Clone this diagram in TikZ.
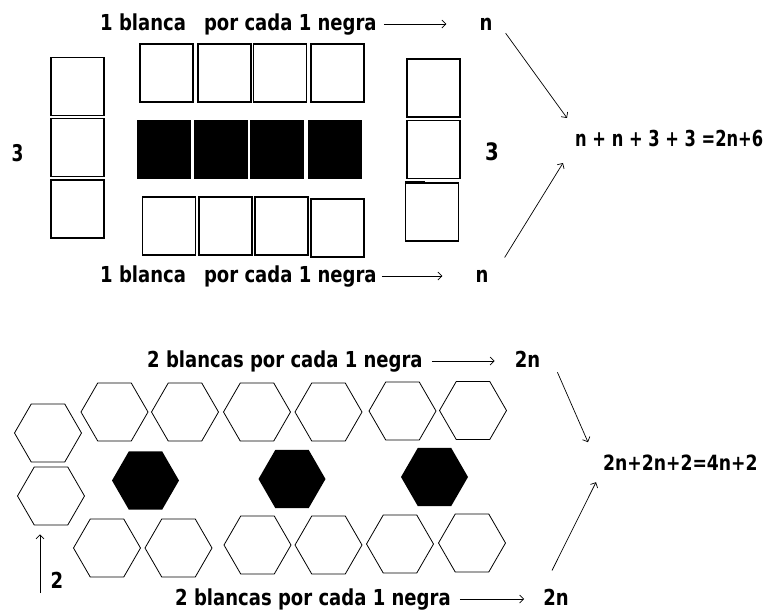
\documentclass[tikz,border=0pt]{standalone}
\usepackage{fontspec}
\usepackage{tikz}
\usetikzlibrary{shapes.geometric, arrows.meta}

\newfontfamily\rotulo{DejaVu Sans}[FakeStretch=0.82]
\newfontfamily\formula{DejaVu Sans}[FakeStretch=0.74]

\tikzset{
    texto/.style={inner sep=0pt, font=\rotulo\bfseries\fontsize{22}{26}\selectfont},
    cuadro/.style={draw, line width=1.3pt, inner sep=0pt, minimum width=53pt, minimum height=58pt},
    cuadronegro/.style={fill=black, inner sep=0pt, minimum width=54pt, minimum height=59pt},
    hexblanco/.style={regular polygon, regular polygon sides=6, draw, line width=0.8pt, inner sep=0pt, minimum size=67pt},
    hexnegro/.style={regular polygon, regular polygon sides=6, fill=black, inner sep=0pt, minimum size=67pt},
    flecha/.style={-{Straight Barb[length=4pt, width=8pt]}, line width=0.7pt}
}

\begin{document}
\begin{tikzpicture}[x=1pt, y=-1pt]
    \useasboundingbox (0,0) rectangle (773,614);

    \node[cuadro] (iz1) at (77.5,86.5) {};
    \node[cuadro] (iz2) at (77.5,147.5) {};
    \node[cuadro] (iz3) at (77.5,209) {};

    \node[cuadro] (ar1) at (166.5,73) {};
    \node[cuadro] (ar2) at (224.5,73) {};
    \node[cuadro] (ar3) at (280,73) {};
    \node[cuadro] (ar4) at (337.5,73) {};

    \node[cuadronegro] (ne1) at (164,149.5) {};
    \node[cuadronegro] (ne2) at (221,149.5) {};
    \node[cuadronegro] (ne3) at (277,149.5) {};
    \node[cuadronegro] (ne4) at (334.5,149.5) {};

    \node[cuadro] (ab1) at (169,226) {};
    \node[cuadro] (ab2) at (225.5,226) {};
    \node[cuadro] (ab3) at (281.5,226) {};
    \node[cuadro] (ab4) at (337.5,228) {};

    \node[cuadro] (de1) at (433.5,88) {};
    \node[cuadro] (de2) at (433.5,149.5) {};
    \node[cuadro] (de3) at (432,212) {};
    \draw[line width=2.4pt] (de3.north west) -- ++(20,0);

    \node[texto, font=\formula\bfseries\fontsize{23}{26}\selectfont] (tresiz) at (17.5,153.5) {3};
    \node[texto, font=\rotulo\bfseries\fontsize{24}{26}\selectfont] (tresde) at (492,151.5) {3};

    \node[texto, anchor=base west] (t1) at (100,30) {1 blanca\hspace{18pt}por cada 1 negra};
    \node[texto, anchor=base] (n1) at (486,30) {n};
    \draw[flecha, shorten <=7pt, shorten >=33pt] (t1) -- (t1 -| n1.west);

    \node[texto, anchor=base west] (t2) at (100,282) {1 blanca\hspace{18pt}por cada 1 negra};
    \node[texto, anchor=base] (n2) at (482,282) {n};
    \draw[flecha, shorten <=5pt, shorten >=33pt] (t2) -- (t2 -| n2.west);

    \node[texto, anchor=base west, font=\formula\bfseries\fontsize{22}{26}\selectfont] (f1) at (575,146) {n + n + 3 + 3 =2n+6};
    \draw[flecha] ([shift={(13,3)}]n1.south east) -- ([shift={(-8,-20)}]f1.west);
    \draw[flecha] ([shift={(16,-12)}]n2.north east) -- ([shift={(-12,25)}]f1.west);

    \node[hexblanco] (hi1) at (48,433) {};
    \node[hexblanco] (hi2) at (51,496) {};

    \node[hexblanco] (ha1) at (114.5,412) {};
    \node[hexblanco] (ha2) at (185,412) {};
    \node[hexblanco] (ha3) at (257,412) {};
    \node[hexblanco] (ha4) at (328.5,412) {};
    \node[hexblanco] (ha5) at (402.5,411) {};
    \node[hexblanco] (ha6) at (473,410.5) {};

    \node[hexnegro] (hn1) at (145.5,480.5) {};
    \node[hexnegro] (hn2) at (292,479) {};
    \node[hexnegro] (hn3) at (434.5,477) {};

    \node[hexblanco] (hb1) at (107,548) {};
    \node[hexblanco] (hb2) at (178.5,548) {};
    \node[hexblanco] (hb3) at (257.5,545) {};
    \node[hexblanco] (hb4) at (328.5,545) {};
    \node[hexblanco] (hb5) at (400,544) {};
    \node[hexblanco] (hb6) at (472,543) {};

    \coordinate (pie) at (40,593);
    \draw[flecha, shorten >=9pt] (pie) -- (pie |- hi2.south);
    \node[texto] (dos) at (57,580) {2};

    \node[texto, anchor=base west] (t3) at (147,367) {2 blancas por cada 1 negra};
    \node[texto, anchor=base] (n3) at (527.5,367) {2n};
    \draw[flecha, shorten <=9pt, shorten >=20pt] (t3) -- (t3 -| n3.west);

    \node[texto, anchor=base west] (t4) at (175,605) {2 blancas por cada 1 negra};
    \node[texto, anchor=base] (n4) at (556,605) {2n};
    \draw[flecha, shorten <=9pt, shorten >=19pt] (t4) -- (t4 -| n4.west);

    \node[texto, anchor=base west, font=\rotulo\bfseries\fontsize{21}{24}\selectfont] (f2) at (603,470) {2n+2n+2=4n+2};
    \draw[flecha] ([shift={(17,5)}]n3.south east) -- ([shift={(-15,-20)}]f2.west);
    \draw[flecha] ([shift={(-4,-18)}]n4.north) -- ([shift={(-7,20)}]f2.west);
\end{tikzpicture}
\end{document}
